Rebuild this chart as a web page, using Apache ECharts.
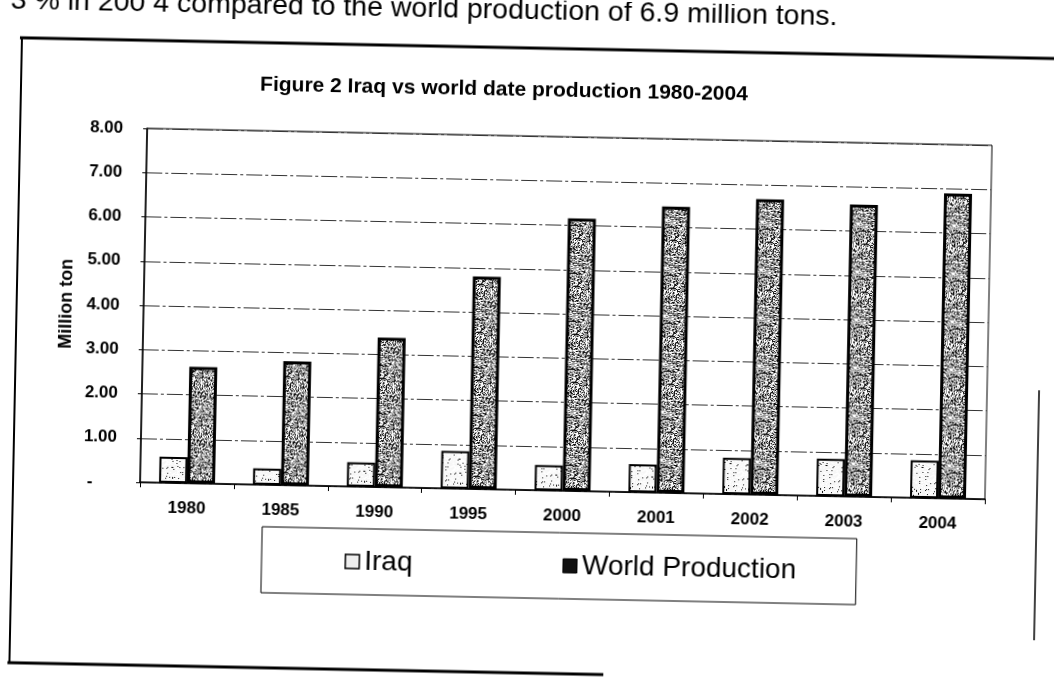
<!DOCTYPE html>
<html>
<head>
<meta charset="utf-8">
<script src="https://cdn.jsdelivr.net/npm/echarts@6/dist/echarts.min.js"></script>
<style>
  html, body { margin: 0; padding: 0; background: #fff; overflow: hidden; }
  #page { width: 1054px; height: 681px; transform: rotate(1.15deg); transform-origin: 527px 340px; }
</style>
</head>
<body>
<div id="page"></div>
<script>
// Date production, million tons
const categories = ['1980', '1985', '1990', '1995', '2000', '2001', '2002', '2003', '2004'];
const iraqValues = [0.59, 0.37, 0.55, 0.85, 0.57, 0.63, 0.82, 0.84, 0.85];
const worldValues = [2.63, 2.8, 3.38, 4.8, 6.16, 6.47, 6.68, 6.6, 6.89];
const yTickLabels = ['-     ', '1.00', '2.00', '3.00', '4.00', '5.00', '6.00', '7.00', '8.00'];

// Speckled print-style fills built from a small deterministic hash
function hash(x, y, s) {
  let h = (x * 374761393 + y * 668265263 + s * 2147483647) | 0;
  h = (h ^ (h >>> 13)) * 1274126177;
  h = h ^ (h >>> 16);
  return ((h >>> 0) % 10000) / 10000;
}
function speckle(base, darkShare, lightShare, seed) {
  const c = document.createElement('canvas');
  c.width = 48; c.height = 48;
  const g = c.getContext('2d');
  g.fillStyle = base;
  g.fillRect(0, 0, 48, 48);
  for (let y = 0; y < 48; y++) {
    for (let x = 0; x < 48; x++) {
      const r = hash(x, y, seed);
      if (r < darkShare) { g.fillStyle = '#111'; g.fillRect(x, y, 1, 1); }
      else if (r > 1 - lightShare) { g.fillStyle = '#fff'; g.fillRect(x, y, 1, 1); }
    }
  }
  return c;
}
const iraqFill = { image: speckle('#f6f6f6', 0.05, 0.35, 7), repeat: 'repeat' };
const worldFill = { image: speckle('#9a9a9a', 0.26, 0.36, 3), repeat: 'repeat' };

const chart = echarts.init(document.getElementById('page'), null, { renderer: 'canvas' });
const FONT = '"Liberation Sans", Arial, sans-serif';

chart.setOption({
  backgroundColor: '#fff',
  animation: false,
  textStyle: { fontFamily: FONT },
  title: {
    text: 'Figure 2 Iraq vs world date production 1980-2004',
    left: 494, top: 75, textAlign: 'center',
    textStyle: { fontFamily: FONT, fontSize: 21, fontWeight: 'bold', color: '#000' }
  },
  legend: {
    left: 266, top: 532,
    padding: [19, 60, 19, 83],
    itemGap: 150,
    itemWidth: 14, itemHeight: 14,
    borderColor: '#000', borderWidth: 1,
    textStyle: { fontFamily: FONT, fontSize: 28, color: '#000' },
    data: [
      { name: 'Iraq', icon: 'rect', itemStyle: { color: '#eee', borderColor: '#000', borderWidth: 1.5 } },
      { name: 'World Production', icon: 'rect', itemStyle: { color: '#111', borderColor: '#000', borderWidth: 1 } }
    ]
  },
  grid: {
    left: 143, right: 66, top: 136, bottom: 191,
    show: true, borderColor: '#000', borderWidth: 1
  },
  xAxis: {
    type: 'category',
    data: categories,
    axisLine: { lineStyle: { color: '#000', width: 1.5 } },
    axisTick: { show: true, alignWithLabel: false, length: 5, lineStyle: { color: '#000' } },
    axisLabel: { fontFamily: FONT, fontSize: 17, fontWeight: 'bold', color: '#000', margin: 17 }
  },
  yAxis: {
    type: 'value',
    min: 0, max: 8, interval: 1,
    name: 'Million ton',
    nameLocation: 'middle',
    nameGap: 68,
    nameTextStyle: { fontFamily: FONT, fontSize: 18, fontWeight: 'bold', color: '#000' },
    axisLine: { show: true, lineStyle: { color: '#000', width: 1.5 } },
    axisTick: { show: true, length: 4, lineStyle: { color: '#000' } },
    axisLabel: {
      fontFamily: FONT, fontSize: 17, fontWeight: 'bold', color: '#000', margin: 24,
      formatter: function (v) { return yTickLabels[Math.round(v)]; }
    },
    splitLine: { show: true, lineStyle: { color: '#333', width: 1, type: [16, 3, 3, 3] } }
  },
  series: [
    {
      name: 'Iraq', type: 'bar', data: iraqValues,
      barWidth: 28, barGap: '0%',
      itemStyle: { color: iraqFill, borderColor: '#000', borderWidth: 2 }
    },
    {
      name: 'World Production', type: 'bar', data: worldValues,
      barWidth: 28,
      itemStyle: { color: worldFill, borderColor: '#000', borderWidth: 3 }
    }
  ],
  graphic: [
    // running text of the page above the figure
    { type: 'text', left: 4, top: -3,
      style: { text: '3 % in 200 4 compared to the world production of 6.9 million tons.',
        fontFamily: FONT, fontSize: 28.5, fill: '#000' } },
    // frame around the figure
    { type: 'line', shape: { x1: 14, y1: 48, x2: 1060, y2: 48 }, style: { stroke: '#000', lineWidth: 3 } },
    { type: 'line', shape: { x1: 16, y1: 48, x2: 16, y2: 674 }, style: { stroke: '#000', lineWidth: 2 } },
    { type: 'line', shape: { x1: 14, y1: 673, x2: 610, y2: 673 }, style: { stroke: '#000', lineWidth: 3 } },
    { type: 'line', shape: { x1: 1040, y1: 380, x2: 1040, y2: 630 }, style: { stroke: '#000', lineWidth: 1.5 } }
  ]
});
</script>
</body>
</html>
